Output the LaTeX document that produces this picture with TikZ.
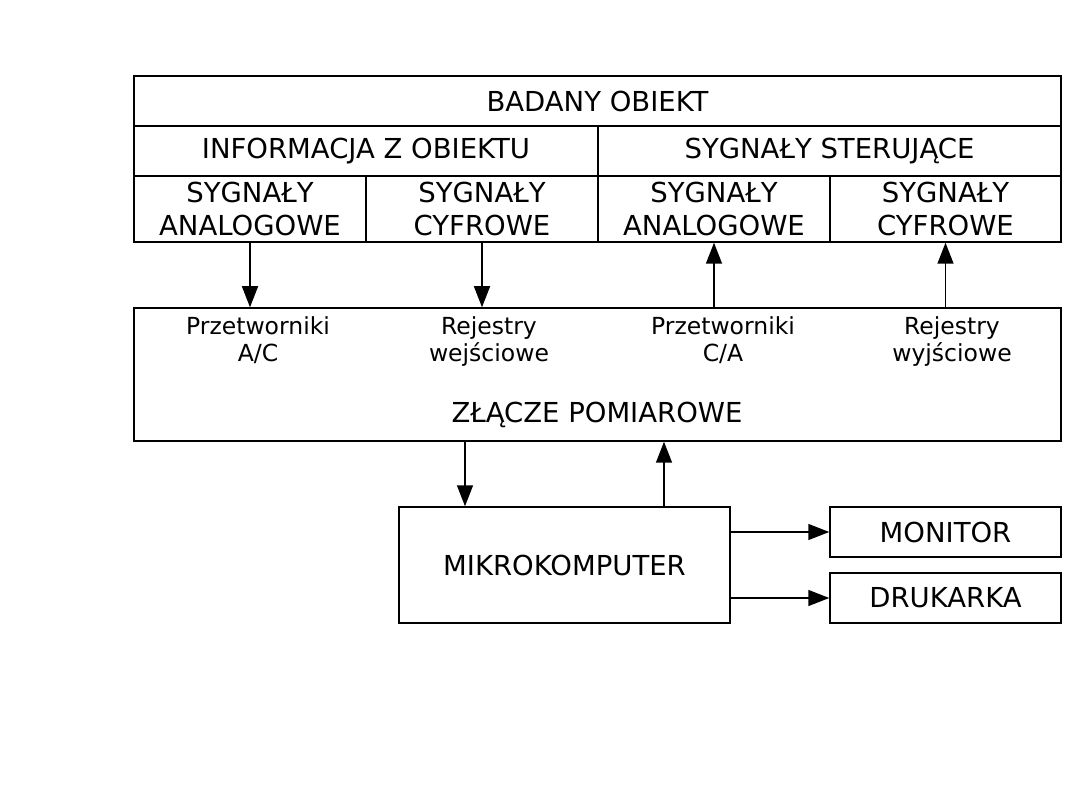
\documentclass[tikz,border=0pt]{standalone}
\usepackage{fontspec}
\setmainfont{DejaVu Sans}
\usetikzlibrary{arrows.meta}

\tikzset{
  cell/.style={draw, line width=1.5pt, inner sep=0pt, align=center, font=\fontsize{27.5}{33}\selectfont},
  lbl/.style={inner sep=0pt, align=center, anchor=north, font=\fontsize{23.5}{27.5}\selectfont},
  arr/.style={line width=1.5pt, -{Triangle[length=21pt,width=16pt]}}
}

\begin{document}
\begin{tikzpicture}[x=1pt,y=1pt]
\useasboundingbox (0,0) rectangle (1080,-810);

%Badany obiekt
\node[cell, minimum width=927pt, minimum height=50pt] (obiekt) at (597.5,-101) {BADANY OBIEKT};
\node[cell, minimum width=464pt, minimum height=50pt] (info) at (366,-151) {INFORMACJA Z OBIEKTU};
\node[cell, minimum width=463pt, minimum height=50pt] (ster) at (829.5,-151) {SYGNAŁY STERUJĄCE};
\node[cell, minimum width=232pt, minimum height=66pt] (wea) at (250,-209) {SYGNAŁY\\ANALOGOWE};
\node[cell, minimum width=232pt, minimum height=66pt] (wec) at (482,-209) {SYGNAŁY\\CYFROWE};
\node[cell, minimum width=232pt, minimum height=66pt] (wya) at (714,-209) {SYGNAŁY\\ANALOGOWE};
\node[cell, minimum width=231pt, minimum height=66pt] (wyc) at (945.5,-209) {SYGNAŁY\\CYFROWE};

%Zlacze
\node[cell, minimum width=927pt, minimum height=133pt] (zlacze) at (597.5,-374.5) {};
\node[lbl] (ac) at (258,-316) {Przetworniki\\A/C};
\node[lbl] (rwe) at (489,-316) {Rejestry\\wejściowe};
\node[lbl] (ca) at (723,-316) {Przetworniki\\C/A};
\node[lbl] (rwy) at (952,-316) {Rejestry\\wyjściowe};
\node[lbl, anchor=base, font=\fontsize{27.5}{33}\selectfont] (zname) at (597,-423) {ZŁĄCZE POMIAROWE};

\draw[arr] (wea.south) -- (wea.south |- zlacze.north);
\draw[arr] (wec.south) -- (wec.south |- zlacze.north);
\draw[arr] (wya.south |- zlacze.north) -- (wya.south);
\draw[arr] (wyc.south |- zlacze.north) -- (wyc.south);

%Mikrokomputer
\node[cell, minimum width=331pt, minimum height=116pt] (mikro) at (564.5,-565) {MIKROKOMPUTER};
\node[cell, minimum width=231pt, minimum height=50pt] (monitor) at (945.5,-532) {MONITOR};
\node[cell, minimum width=231pt, minimum height=50pt] (druk) at (945.5,-598) {DRUKARKA};

\draw[arr] ([xshift=-99.5pt]mikro.north |- zlacze.south) -- ([xshift=-99.5pt]mikro.north);
\draw[arr] ([xshift=99.5pt]mikro.north) -- ([xshift=99.5pt]mikro.north |- zlacze.south);
\draw[arr] (mikro.east |- monitor.west) -- (monitor.west);
\draw[arr] (mikro.east |- druk.west) -- (druk.west);

\end{tikzpicture}
\end{document}
